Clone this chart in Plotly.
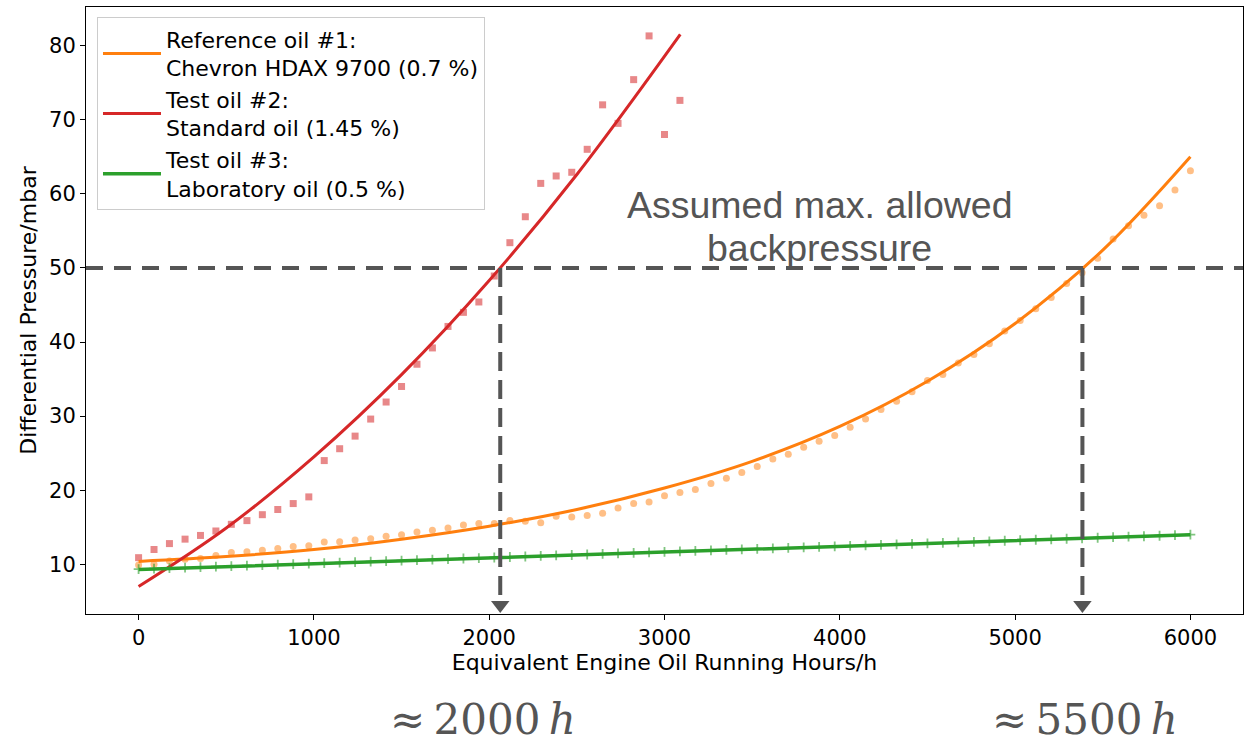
import plotly.graph_objects as go

# ---------------- data ----------------
hours = [0, 88, 176, 265, 353, 441, 529, 618, 706, 794, 882, 971, 1059, 1147, 1235,
         1324, 1412, 1500, 1588, 1676, 1765, 1853, 1941, 2029, 2118, 2206, 2294, 2382,
         2471, 2559, 2647, 2735, 2824, 2912, 3000, 3088, 3176, 3265, 3353, 3441, 3529,
         3618, 3706, 3794, 3882, 3971, 4059, 4147, 4235, 4324, 4412, 4500, 4588, 4676,
         4765, 4853, 4941, 5029, 5118, 5206, 5294, 5382, 5471, 5559, 5647, 5735, 5824,
         5912, 6000]

ref_oil_dp = [9.9, 10.0, 10.45, 10.7, 10.8, 11.2, 11.6, 11.7, 11.9, 12.15, 12.4, 12.5,
              13.0, 13.05, 13.3, 13.45, 13.8, 14.0, 14.35, 14.6, 14.9, 15.3, 15.5, 15.5,
              15.9, 15.8, 15.6, 16.5, 16.4, 16.6, 16.9, 17.6, 18.2, 18.4, 19.25, 19.7,
              20.1, 20.9, 21.6, 22.4, 23.2, 24.2, 24.85, 25.8, 26.6, 27.4, 28.5, 29.6,
              30.9, 32.0, 33.3, 34.8, 35.6, 37.15, 38.3, 39.75, 41.5, 42.9, 44.5, 46.0,
              47.9, 49.35, 51.3, 53.9, 55.7, 57.1, 58.4, 60.5, 63.1]

std_oil_dp = [10.9, 12.0, 12.8, 13.4, 13.9, 14.5, 15.4, 15.9, 16.7, 17.4, 18.2, 19.1,
              24.0, 25.6, 27.3, 29.6, 31.9, 34.0, 37.0, 39.2, 42.1, 44.0, 45.4, 48.9,
              53.4, 56.9, 61.4, 62.4, 62.9, 66.0, 72.0, 69.5, 75.4, 81.3, 68.0, 72.6]

lab_oil_dp = [9.35, 9.42, 9.49, 9.56, 9.62, 9.69, 9.76, 9.83, 9.90, 9.97, 10.03, 10.10,
              10.17, 10.24, 10.31, 10.38, 10.44, 10.51, 10.58, 10.65, 10.72, 10.79, 10.85,
              10.92, 10.99, 11.06, 11.13, 11.20, 11.26, 11.33, 11.40, 11.47, 11.54, 11.61,
              11.68, 11.74, 11.81, 11.88, 11.95, 12.02, 12.09, 12.15, 12.22, 12.29, 12.36,
              12.43, 12.50, 12.56, 12.63, 12.70, 12.77, 12.84, 12.91, 12.97, 13.04, 13.11,
              13.18, 13.25, 13.32, 13.38, 13.45, 13.52, 13.59, 13.66, 13.73, 13.79, 13.86,
              13.93, 14.00]

# fitted trend curves
ref_fit_x = [0, 500, 1000, 1500, 2000, 2500, 3000, 3500, 4000, 4500, 5000, 5500, 6000]
ref_fit_y = [10.4, 11.05, 12.0, 13.4, 15.15, 17.4, 20.3, 23.9, 28.6, 34.7, 42.5, 52.4, 65.0]
std_fit_x = [0, 500, 1000, 1500, 2000, 2500, 3090]
std_fit_y = [7.0, 14.9, 24.5, 35.6, 48.3, 62.6, 81.5]
lab_fit_x = [0, 3000, 6000]
lab_fit_y = [9.3, 11.65, 14.0]

max_backpressure = 50
intercept_hours = [2063, 5384]
intercept_labels = ["≈\u20092000\u2009<i>h</i>", "≈\u20095500\u2009<i>h</i>"]

legend_names = ["Reference oil #1:<br>Chevron HDAX 9700 (0.7 %)",
                "Test oil #2:<br>Standard oil (1.45 %)",
                "Test oil #3:<br>Laboratory oil (0.5 %)"]

# ---------------- styling ----------------
ORANGE = "#ff7f0e"
RED = "#d62728"
GREEN = "#2ca02c"
GREY = "#555555"
FONT = "DejaVu Sans"

X_RANGE = [-300, 6300]
Y_RANGE = [3.3, 85.2]
W, H = 1245, 748
M = dict(l=86, r=2, t=7, b=134)
plot_h = H - M["t"] - M["b"]

fig = go.Figure()

# scatter data
fig.add_trace(go.Scatter(x=hours[:len(std_oil_dp)], y=std_oil_dp, mode="markers",
                         marker=dict(symbol="square", size=7, color=RED, opacity=0.55,
                                     line=dict(width=0)),
                         showlegend=False, hoverinfo="skip"))
fig.add_trace(go.Scatter(x=hours, y=ref_oil_dp, mode="markers",
                         marker=dict(symbol="circle", size=7, color=ORANGE, opacity=0.5,
                                     line=dict(width=0)),
                         showlegend=False, hoverinfo="skip"))

# fit lines
fig.add_trace(go.Scatter(x=ref_fit_x, y=ref_fit_y, mode="lines", name=legend_names[0],
                         line=dict(color=ORANGE, width=3, shape="spline", smoothing=1)))
fig.add_trace(go.Scatter(x=std_fit_x, y=std_fit_y, mode="lines", name=legend_names[1],
                         line=dict(color=RED, width=3, shape="spline", smoothing=1)))
fig.add_trace(go.Scatter(x=lab_fit_x, y=lab_fit_y, mode="lines", name=legend_names[2],
                         line=dict(color=GREEN, width=3.5, shape="spline", smoothing=1)))
fig.add_trace(go.Scatter(x=hours, y=lab_oil_dp, mode="markers",
                         marker=dict(symbol="cross-thin", size=7, color=GREEN, opacity=0.6,
                                     line=dict(width=1.8, color=GREEN)),
                         showlegend=False, hoverinfo="skip"))

# horizontal threshold line
fig.add_shape(type="line", xref="paper", x0=0, x1=1, yref="y",
              y0=max_backpressure, y1=max_backpressure,
              line=dict(color=GREY, width=4, dash="17px,11px"))

# vertical dashed arrows down to the x-axis
px_per_unit = plot_h / (Y_RANGE[1] - Y_RANGE[0])
tri_size = 16
tri_y = Y_RANGE[0] + (tri_size / 2 + 1) / px_per_unit
for hx in intercept_hours:
    fig.add_trace(go.Scatter(x=[hx, hx], y=[max_backpressure, tri_y], mode="lines",
                             line=dict(color=GREY, width=4, dash="19px,9px"),
                             showlegend=False, hoverinfo="skip"))
    fig.add_trace(go.Scatter(x=[hx], y=[tri_y], mode="markers",
                             marker=dict(symbol="triangle-down", size=tri_size, color=GREY,
                                         line=dict(width=0)),
                             showlegend=False, hoverinfo="skip"))

# annotations
fig.add_annotation(text="Assumed max. allowed", xref="paper", yref="paper",
                   x=0.634, y=0.674, showarrow=False, xanchor="center", yanchor="middle",
                   font=dict(family="Liberation Sans", size=37.5, color=GREY))
fig.add_annotation(text="backpressure", xref="paper", yref="paper",
                   x=0.634, y=0.603, showarrow=False, xanchor="center", yanchor="middle",
                   font=dict(family="Liberation Sans", size=37.5, color=GREY))
for xp, lab in zip([0.343, 0.8634], intercept_labels):
    fig.add_annotation(text=lab, xref="paper", yref="paper", x=xp, y=-0.1746,
                       showarrow=False, xanchor="center", yanchor="middle",
                       font=dict(family="DejaVu Serif", size=42, color=GREY))

axis_common = dict(showline=True, linecolor="black", linewidth=1, mirror=True,
                   ticks="outside", ticklen=5, tickcolor="black", showgrid=False,
                   zeroline=False, tickfont=dict(family=FONT, size=21, color="black"))

fig.update_xaxes(range=X_RANGE, tickvals=[0, 1000, 2000, 3000, 4000, 5000, 6000],
                 title=dict(text="Equivalent Engine Oil Running Hours/h", standoff=2,
                            font=dict(family=FONT, size=22, color="black")),
                 **axis_common)
fig.update_yaxes(range=Y_RANGE, tickvals=[10, 20, 30, 40, 50, 60, 70, 80],
                 title=dict(text="Differential Pressure/mbar", standoff=6,
                            font=dict(family=FONT, size=22, color="black")),
                 **axis_common)

fig.update_layout(
    width=W, height=H, margin=M,
    paper_bgcolor="white", plot_bgcolor="white",
    font=dict(family=FONT, color="black"),
    legend=dict(x=0.0095, y=0.983, xanchor="left", yanchor="top",
                bgcolor="white", bordercolor="#cccccc", borderwidth=1,
                font=dict(family=FONT, size=22, color="black"),
                tracegroupgap=0, itemwidth=58),
)

fig.write_html("out.html")
